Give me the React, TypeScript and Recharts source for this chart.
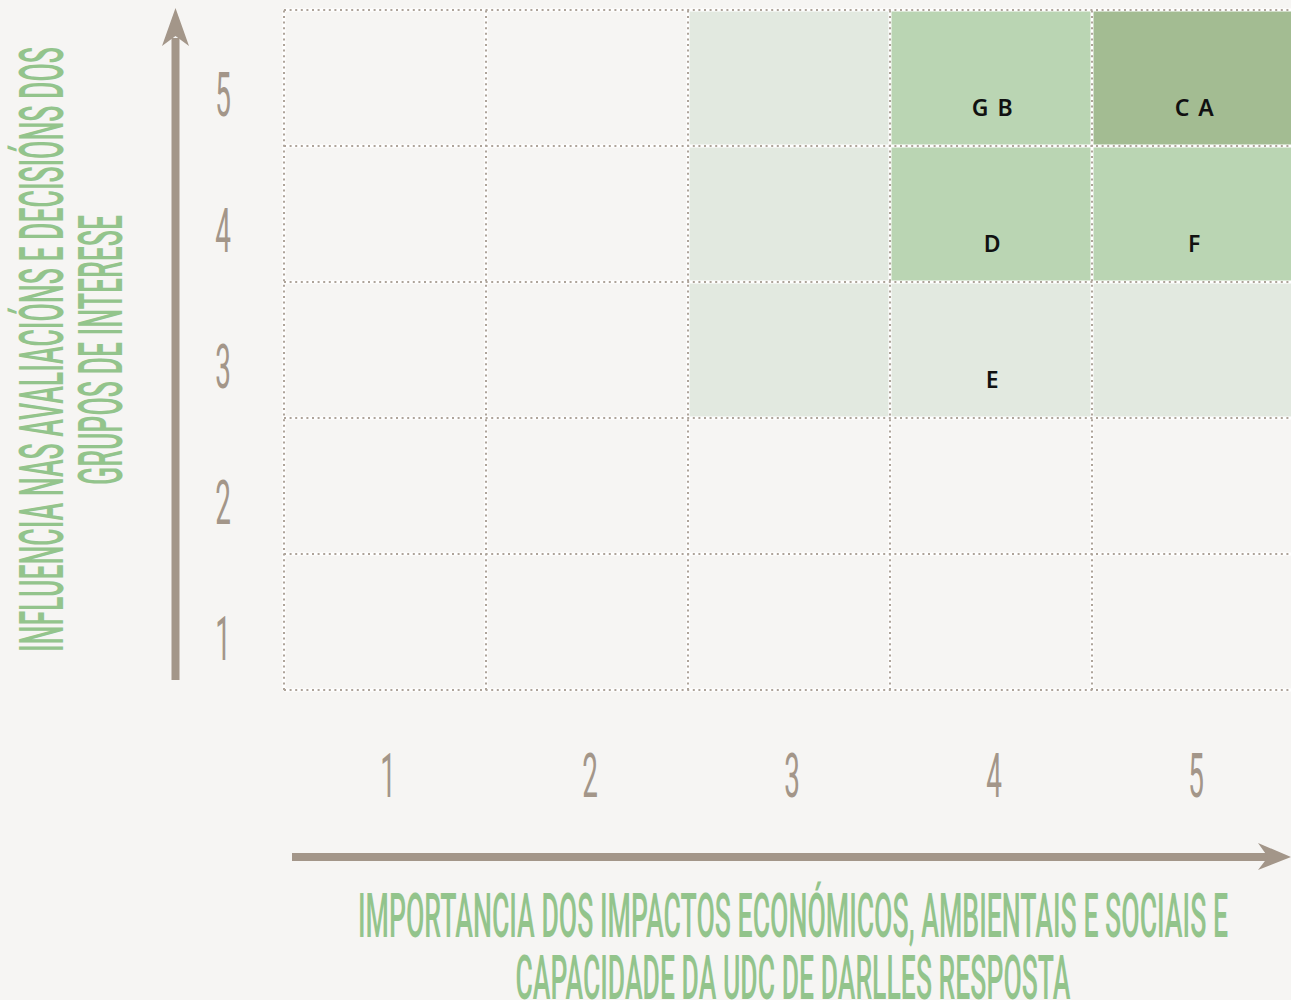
import { ScatterChart, Scatter, XAxis, YAxis, ReferenceArea, ReferenceLine } from "recharts";

// axis ticks (1..5 on both scales)
const xTicks = [1, 2, 3, 4, 5];
const yTicks = [1, 2, 3, 4, 5];
// cell borders, half a unit around each tick
const gridBounds = [0.5, 1.5, 2.5, 3.5, 4.5, 5.5];

// shaded cells: column, row, shade level (1 light .. 3 dark)
const cellCols = [3, 3, 3, 4, 4, 4, 5, 5, 5];
const cellRows = [5, 4, 3, 5, 4, 3, 5, 4, 3];
const cellLevels = [1, 1, 1, 2, 2, 1, 3, 2, 1];

// stakeholder group labels placed in cells
const groupLabels = ["G B", "C A", "D", "F", "E"];
const groupCols = [4, 5, 4, 5, 4];
const groupRows = [5, 5, 4, 4, 3];

const xTitleLines = [
  "IMPORTANCIA DOS IMPACTOS ECONÓMICOS, AMBIENTAIS E SOCIAIS E",
  "CAPACIDADE DA UDC DE DARLLES RESPOSTA",
];
const yTitleLines = ["INFLUENCIA NAS AVALIACIÓNS E DECISIÓNS DOS", "GRUPOS DE INTERESE"];

const BG = "#f6f5f3";
const BROWN = "#a39689";
const GREEN = "#93c48c";
const GRID = "#aea49a";
const levelFill = ["", "#e2e9e0", "#bad5b3", "#a3bc92"];

const cells = cellCols.map((c, i) => ({ col: c, row: cellRows[i], level: cellLevels[i] }));
const points = groupLabels.map((label, i) => ({ x: groupCols[i], y: groupRows[i], label }));

const condensed = "Roboto, 'Liberation Sans', sans-serif";

function XTick(props: any) {
  const { x, y, payload } = props;
  return (
    <text
      transform={`translate(${x + 3},${y + 99}) scale(0.45,1)`}
      textAnchor="middle"
      fontFamily={condensed}
      fontSize={62}
      fill={BROWN}
    >
      {payload.value}
    </text>
  );
}

function YTick(props: any) {
  const { y, payload } = props;
  return (
    <text
      transform={`translate(223,${y + 38}) scale(0.45,1)`}
      textAnchor="middle"
      fontFamily={condensed}
      fontSize={62}
      fill={BROWN}
    >
      {payload.value}
    </text>
  );
}

function XTitle(props: any) {
  const vb = props.viewBox || { x: 284, y: 690, width: 1010, height: 310 };
  const ay = vb.y + 167;
  const tip = vb.x + vb.width - 3;
  return (
    <g>
      <rect x={vb.x + 8} y={ay - 4} width={tip - 22 - vb.x - 8} height={8} fill={BROWN} />
      <polygon
        points={`${tip},${ay} ${tip - 33},${ay - 14} ${tip - 23},${ay} ${tip - 33},${ay + 13}`}
        fill={BROWN}
      />
      <text
        x={793}
        y={vb.y + 247}
        textAnchor="middle"
        fontFamily={condensed}
        fontWeight={500}
        fontSize={62}
        fill={GREEN}
        textLength={870}
        lengthAdjust="spacingAndGlyphs"
      >
        {xTitleLines[0]}
      </text>
      <text
        x={793}
        y={vb.y + 309}
        textAnchor="middle"
        fontFamily={condensed}
        fontWeight={500}
        fontSize={62}
        fill={GREEN}
        textLength={555}
        lengthAdjust="spacingAndGlyphs"
      >
        {xTitleLines[1]}
      </text>
    </g>
  );
}

function YTitle() {
  return (
    <g>
      <rect x={171.5} y={38} width={8} height={642} fill={BROWN} />
      <polygon points="175.5,8 189,46 175.5,36 162,46" fill={BROWN} />
      <text
        transform="translate(63,349.5) rotate(-90)"
        textAnchor="middle"
        fontFamily={condensed}
        fontWeight={500}
        fontSize={62}
        fill={GREEN}
        textLength={605}
        lengthAdjust="spacingAndGlyphs"
      >
        {yTitleLines[0]}
      </text>
      <text
        transform="translate(122,350) rotate(-90)"
        textAnchor="middle"
        fontFamily={condensed}
        fontWeight={500}
        fontSize={62}
        fill={GREEN}
        textLength={270}
        lengthAdjust="spacingAndGlyphs"
      >
        {yTitleLines[1]}
      </text>
    </g>
  );
}

function GroupLabel(props: any) {
  const { cx, cy, payload } = props;
  return (
    <text
      x={cx + 2}
      y={cy + 38}
      textAnchor="middle"
      fontFamily="'Noto Sans', sans-serif"
      fontWeight={600}
      fontSize={23}
      letterSpacing={1.5}
      fill="#111"
    >
      {payload.label}
    </text>
  );
}

export default function App() {
  return (
    <div
      style={{
        position: "absolute",
        left: 0,
        top: 0,
        width: 1291,
        height: 1000,
        overflow: "hidden",
        background: BG,
      }}
    >
      <ScatterChart width={1294} height={1000} margin={{ top: 10, right: 0, bottom: 0, left: 0 }}>
        <XAxis
          type="number"
          dataKey="x"
          domain={[0.5, 5.5]}
          ticks={xTicks}
          axisLine={false}
          tickLine={false}
          height={310}
          tick={<XTick />}
          label={(p: any) => <XTitle {...p} />}
        />
        <YAxis
          type="number"
          dataKey="y"
          domain={[0.5, 5.5]}
          ticks={yTicks}
          axisLine={false}
          tickLine={false}
          width={284}
          tick={<YTick />}
          label={() => <YTitle />}
        />
        {cells.map((c, i) => (
          <ReferenceArea
            key={`cell-${i}`}
            x1={c.col - 0.5}
            x2={c.col + 0.5}
            y1={c.row - 0.5}
            y2={c.row + 0.5}
            fill={levelFill[c.level]}
            fillOpacity={1}
            stroke="none"
            ifOverflow="visible"
          />
        ))}
        {gridBounds.map((b) => (
          <ReferenceLine key={`wx-${b}`} x={b} stroke="#ffffff" strokeWidth={3} ifOverflow="visible" />
        ))}
        {gridBounds.map((b) => (
          <ReferenceLine key={`wy-${b}`} y={b} stroke="#ffffff" strokeWidth={3} ifOverflow="visible" />
        ))}
        {gridBounds.map((b) => (
          <ReferenceLine
            key={`gx-${b}`}
            x={b}
            stroke={GRID}
            strokeWidth={2}
            strokeDasharray="2 3.6"
            ifOverflow="visible"
          />
        ))}
        {gridBounds.map((b) => (
          <ReferenceLine
            key={`gy-${b}`}
            y={b}
            stroke={GRID}
            strokeWidth={2}
            strokeDasharray="2 3.6"
            ifOverflow="visible"
          />
        ))}
        <Scatter data={points} isAnimationActive={false} shape={<GroupLabel />} />
      </ScatterChart>
    </div>
  );
}
